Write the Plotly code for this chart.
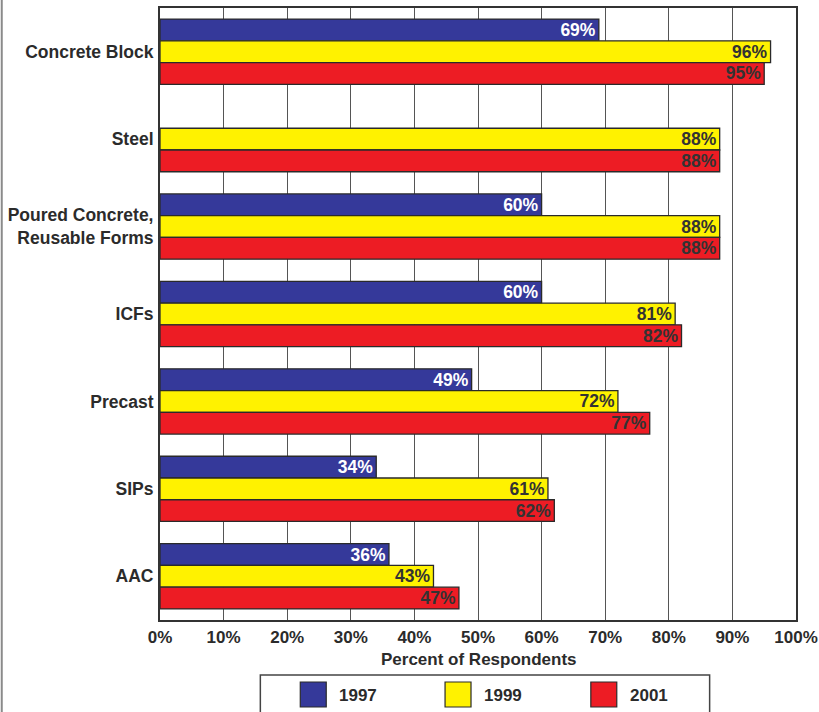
import plotly.graph_objects as go

categories = ["Concrete Block", "Steel", "Poured Concrete,<br>Reusable Forms",
              "ICFs", "Precast", "SIPs", "AAC"]
years = ["1997", "1999", "2001"]
v1997 = [69, None, 60, 60, 49, 34, 36]
v1999 = [96, 88, 88, 81, 72, 61, 43]
v2001 = [95, 88, 88, 82, 77, 62, 47]
x_ticks = [0, 10, 20, 30, 40, 50, 60, 70, 80, 90, 100]

colors = ["#35399A", "#FFF200", "#ED1C24"]
text_colors = ["#FFFFFF", "#333333", "#333333"]
FONT = "Liberation Sans, Arial, sans-serif"

W, H = 819, 712
L, R, T, B = 159.5, 796.5, 8, 620


def px(x):
    return (x - L) / (R - L)


def py(y):
    return (B - y) / (B - T)


fig = go.Figure()
for name, vals, c, tc in zip(years, [v1997, v1999, v2001], colors, text_colors):
    fig.add_trace(go.Bar(
        y=categories, x=vals, name=name, orientation="h",
        marker=dict(color=c, line=dict(color="#2a2a2a", width=1.3)),
        text=[f"{v}%" if v is not None else "" for v in vals],
        textposition="inside", insidetextanchor="end", constraintext="none",
        textfont=dict(family=FONT, size=17.5, color=tc, weight="bold"),
        cliponaxis=False, showlegend=False,
    ))

shapes = []
annotations = []
# left border of the page
shapes.append(dict(type="line", xref="paper", yref="paper",
                   x0=px(1), x1=px(1), y0=py(0), y1=py(H + 5),
                   line=dict(color="#8a8a8a", width=2)))
# legend box
shapes.append(dict(type="rect", xref="paper", yref="paper",
                   x0=px(260), x1=px(710), y0=py(675), y1=py(H + 5),
                   line=dict(color="#444444", width=1.5), fillcolor="white"))
sq_x = [300, 445, 591]
for sx, c, name in zip(sq_x, colors, years):
    shapes.append(dict(type="rect", xref="paper", yref="paper",
                       x0=px(sx), x1=px(sx + 26), y0=py(682), y1=py(707),
                       line=dict(color="#2a2a2a", width=1.2), fillcolor=c))
    annotations.append(dict(xref="paper", yref="paper", x=px(sx + 37), y=py(695),
                            text=name, showarrow=False, xanchor="left", yanchor="middle",
                            font=dict(family=FONT, size=17, color="#2b2b2b", weight="bold")))

annotations.append(dict(xref="paper", yref="paper", x=px(479), y=py(659),
                        text="Percent of Respondents", showarrow=False,
                        xanchor="center", yanchor="middle",
                        font=dict(family=FONT, size=17, color="#2b2b2b", weight="bold")))

fig.update_layout(
    width=W, height=H,
    margin=dict(l=L, r=W - R, t=T, b=H - B, pad=0),
    paper_bgcolor="white", plot_bgcolor="white",
    barmode="group", bargap=0.254, bargroupgap=0,
    shapes=shapes, annotations=annotations,
    font=dict(family=FONT, color="#2b2b2b"),
    xaxis=dict(range=[0, 100], tickvals=x_ticks, ticktext=[f"{t}%" for t in x_ticks],
               showgrid=True, gridcolor="#555555", gridwidth=1.2,
               showline=True, mirror=True, linecolor="#333333", linewidth=2,
               ticks="", ticklabelstandoff=1, zeroline=False, automargin=False,
               tickfont=dict(family=FONT, size=17, color="#2b2b2b", weight="bold")),
    yaxis=dict(categoryorder="array", categoryarray=categories, autorange="reversed",
               showline=True, mirror=True, linecolor="#333333", linewidth=2,
               showgrid=False, ticks="", ticklabelstandoff=1, automargin=False,
               tickfont=dict(family=FONT, size=17.5, color="#2b2b2b", weight="bold")),
)

fig.write_html("out.html")
